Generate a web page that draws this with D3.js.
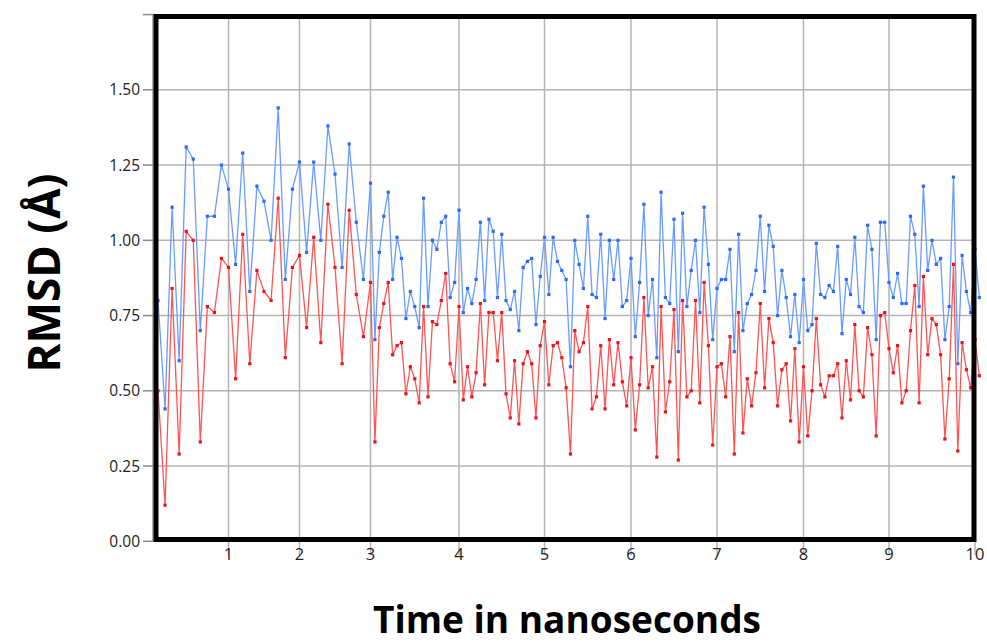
<!DOCTYPE html>
<html>
<head>
<meta charset="utf-8">
<script src="https://cdn.jsdelivr.net/npm/d3@7"></script>
<style>
body { margin: 0; background: #fff; }
#container { width: 987px; height: 644px; }
svg { display: block; }
</style>
</head>
<body>
<div id="container"></div>
<script>
////////// DATA

var xTicks = [1, 2, 3, 4, 5, 6, 7, 8, 9, 10];
var yTicks = [0, 0.25, 0.5, 0.75, 1.0, 1.25, 1.5, 1.75];
var yTickLabels = ["0.00", "0.25", "0.50", "0.75", "1.00", "1.25", "1.50", ""];

// first 3 ns sampled every 0.1 ns, after that every 0.05 ns
var earlyStep = 0.1;
var lateStep = 0.05;

var blueEarly = [0.80, 0.44, 1.11, 0.60, 1.31, 1.27, 0.70, 1.08, 1.08, 1.25,
	1.17, 0.92, 1.29, 0.83, 1.18, 1.13, 1.00, 1.44, 0.87, 1.17,
	1.26, 0.96, 1.26, 1.00, 1.38, 1.22, 0.91, 1.32, 1.06, 0.87,
	1.19];
var blueLate = [0.67, 0.96, 1.08, 1.16, 0.87, 1.01, 0.94, 0.74, 0.83, 0.78,
	0.71, 1.14, 0.78, 1.00, 0.97, 1.06, 1.08, 0.81, 0.86, 1.10,
	0.76, 0.84, 0.79, 0.87, 1.06, 0.80, 1.07, 1.03, 0.81, 1.02,
	0.80, 0.77, 0.83, 0.70, 0.91, 0.93, 0.94, 0.72, 0.88, 1.01,
	0.82, 1.01, 0.93, 0.90, 0.87, 0.58, 1.00, 0.92, 0.84, 1.08,
	0.82, 0.81, 1.02, 0.74, 1.00, 0.87, 1.00, 0.78, 0.80, 0.94,
	0.68, 0.86, 1.12, 0.75, 0.87, 0.61, 1.16, 0.81, 0.79, 1.07,
	0.63, 1.09, 0.78, 0.90, 1.00, 0.76, 1.11, 0.92, 0.67, 0.84,
	0.87, 0.87, 0.97, 0.63, 1.02, 0.70, 0.79, 0.82, 0.90, 1.08,
	0.83, 1.05, 0.98, 0.75, 0.90, 0.81, 0.68, 0.82, 0.66, 0.87,
	0.70, 0.72, 0.99, 0.82, 0.81, 0.85, 0.83, 0.98, 0.69, 0.87,
	0.82, 1.01, 0.78, 0.76, 1.05, 0.97, 0.67, 1.06, 1.06, 0.86,
	0.81, 0.89, 0.79, 0.79, 1.08, 1.02, 0.78, 1.18, 0.90, 1.00,
	0.92, 0.94, 0.67, 0.78, 1.21, 0.59, 0.95, 0.83, 0.76, 0.97,
	0.81];

var redEarly = [0.50, 0.12, 0.84, 0.29, 1.03, 1.00, 0.33, 0.78, 0.76, 0.94,
	0.91, 0.54, 1.02, 0.59, 0.90, 0.83, 0.80, 1.14, 0.61, 0.91,
	0.95, 0.71, 1.01, 0.66, 1.12, 0.91, 0.59, 1.10, 0.82, 0.68,
	0.86];
var redLate = [0.33, 0.71, 0.79, 0.86, 0.62, 0.65, 0.66, 0.49, 0.58, 0.54,
	0.46, 0.78, 0.48, 0.73, 0.72, 0.80, 0.89, 0.59, 0.53, 0.78,
	0.47, 0.58, 0.48, 0.56, 0.79, 0.52, 0.76, 0.76, 0.60, 0.76,
	0.49, 0.41, 0.60, 0.39, 0.59, 0.63, 0.59, 0.41, 0.65, 0.73,
	0.52, 0.65, 0.66, 0.61, 0.51, 0.29, 0.70, 0.63, 0.66, 0.78,
	0.44, 0.48, 0.65, 0.44, 0.67, 0.52, 0.66, 0.53, 0.45, 0.61,
	0.37, 0.52, 0.81, 0.51, 0.58, 0.28, 0.78, 0.43, 0.53, 0.77,
	0.27, 0.80, 0.48, 0.50, 0.80, 0.46, 0.86, 0.65, 0.32, 0.58,
	0.59, 0.48, 0.68, 0.29, 0.76, 0.36, 0.54, 0.45, 0.56, 0.79,
	0.51, 0.74, 0.66, 0.45, 0.57, 0.59, 0.40, 0.64, 0.33, 0.58,
	0.35, 0.50, 0.74, 0.52, 0.48, 0.55, 0.55, 0.59, 0.41, 0.60,
	0.47, 0.72, 0.50, 0.48, 0.71, 0.62, 0.35, 0.75, 0.76, 0.64,
	0.56, 0.65, 0.46, 0.50, 0.70, 0.85, 0.46, 0.88, 0.62, 0.74,
	0.72, 0.62, 0.34, 0.54, 0.92, 0.30, 0.66, 0.57, 0.51, 0.67,
	0.55];

////////// CHART

var gWidth = 987, gHeight = 644;
var color_blue_line = "#6a9cff", color_blue_dot = "#2b6af5";
var color_red_line = "#ff5454", color_red_dot = "#e8141b";

// the source figure has a wider spacing after 3 ns, so the time axis is piecewise
var x = d3.scaleLinear()
	.domain([0, 1, 2, 3, 4, 5, 6, 7, 8, 9, 10])
	.range([158, 228.5, 299.5, 370.5, 459, 544.5, 631, 717, 803.5, 889, 975]);
var y = d3.scaleLinear().domain([0, 1.75]).range([541.3, 14.6]);

function toPoints(early, late)
{
	var pts = [];
	for (var i = 0; i < early.length; i++) pts.push({t: i * earlyStep, v: early[i]});
	for (var j = 0; j < late.length; j++) pts.push({t: 3 + (j + 1) * lateStep, v: late[j]});
	return pts;
}

var svg = d3.select("#container").append("svg")
	.attr("width", gWidth)
	.attr("height", gHeight);

// grid
svg.selectAll(".hGrid").data(yTicks.slice(1, 7)).enter().append("line")
	.attr("class", "hGrid")
	.attr("x1", x(0)).attr("x2", x(10))
	.attr("y1", function(d) { return y(d); })
	.attr("y2", function(d) { return y(d); })
	.style("stroke", "#b4b4b4").style("stroke-width", "1.5px");

svg.selectAll(".vGrid").data(xTicks).enter().append("line")
	.attr("class", "vGrid")
	.attr("x1", function(d) { return x(d); })
	.attr("x2", function(d) { return x(d); })
	.attr("y1", y(1.75)).attr("y2", y(0) + 14)
	.style("stroke", "#b4b4b4").style("stroke-width", "1.5px");

// y axis (ticks + labels)
svg.append("line")
	.attr("x1", 153).attr("x2", 153)
	.attr("y1", y(1.75)).attr("y2", y(0))
	.style("stroke", "#999").style("stroke-width", "1.5px");

svg.selectAll(".yTick").data(yTicks).enter().append("line")
	.attr("class", "yTick")
	.attr("x1", 143).attr("x2", 155)
	.attr("y1", function(d) { return y(d); })
	.attr("y2", function(d) { return y(d); })
	.style("stroke", "#8c8c8c").style("stroke-width", "1.5px");

svg.selectAll(".yLabel").data(yTicks).enter().append("text")
	.attr("class", "yLabel")
	.attr("x", 140)
	.attr("y", function(d) { return y(d) + 5.5; })
	.text(function(d, i) { return yTickLabels[i]; })
	.style("font-family", "'Open Sans', sans-serif")
	.style("font-size", "15.5px")
	.style("fill", "#222")
	.style("text-anchor", "end");

svg.selectAll(".xLabel").data(xTicks).enter().append("text")
	.attr("class", "xLabel")
	.attr("x", function(d) { return x(d); })
	.attr("y", 560)
	.text(function(d) { return d; })
	.style("font-family", "'Open Sans', sans-serif")
	.style("font-size", "16.5px")
	.style("fill", "#222")
	.style("text-anchor", "middle");

// series
var line = d3.line()
	.x(function(d) { return x(d.t); })
	.y(function(d) { return y(d.v); });

function drawSeries(data, lineColor, dotColor, cls)
{
	svg.append("path")
		.datum(data)
		.attr("d", line)
		.style("fill", "none")
		.style("stroke", lineColor)
		.style("stroke-width", "1.3px");

	svg.selectAll("." + cls).data(data).enter().append("rect")
		.attr("class", cls)
		.attr("x", function(d) { return x(d.t) - 1.6; })
		.attr("y", function(d) { return y(d.v) - 1.6; })
		.attr("width", 3.2)
		.attr("height", 3.2)
		.style("fill", dotColor);
}

drawSeries(toPoints(blueEarly, blueLate), color_blue_line, color_blue_dot, "blueDot");
drawSeries(toPoints(redEarly, redLate), color_red_line, color_red_dot, "redDot");

// thick frame round the plot
svg.append("rect")
	.attr("x", 156).attr("y", 16.5)
	.attr("width", 818).attr("height", 523)
	.style("fill", "none")
	.style("stroke", "#000")
	.style("stroke-width", "5px");

// axis titles
svg.append("text")
	.attr("transform", "translate(60, 273) rotate(-90)")
	.text("RMSD (Å)")
	.style("font-family", "'Open Sans', sans-serif")
	.style("font-weight", "bold")
	.style("font-size", "44px")
	.style("fill", "#000")
	.style("text-anchor", "middle");

svg.append("text")
	.attr("x", 567).attr("y", 633)
	.text("Time in nanoseconds")
	.style("font-family", "'Open Sans', sans-serif")
	.style("font-weight", "bold")
	.style("font-size", "37px")
	.style("fill", "#000")
	.style("text-anchor", "middle");
</script>
</body>
</html>
